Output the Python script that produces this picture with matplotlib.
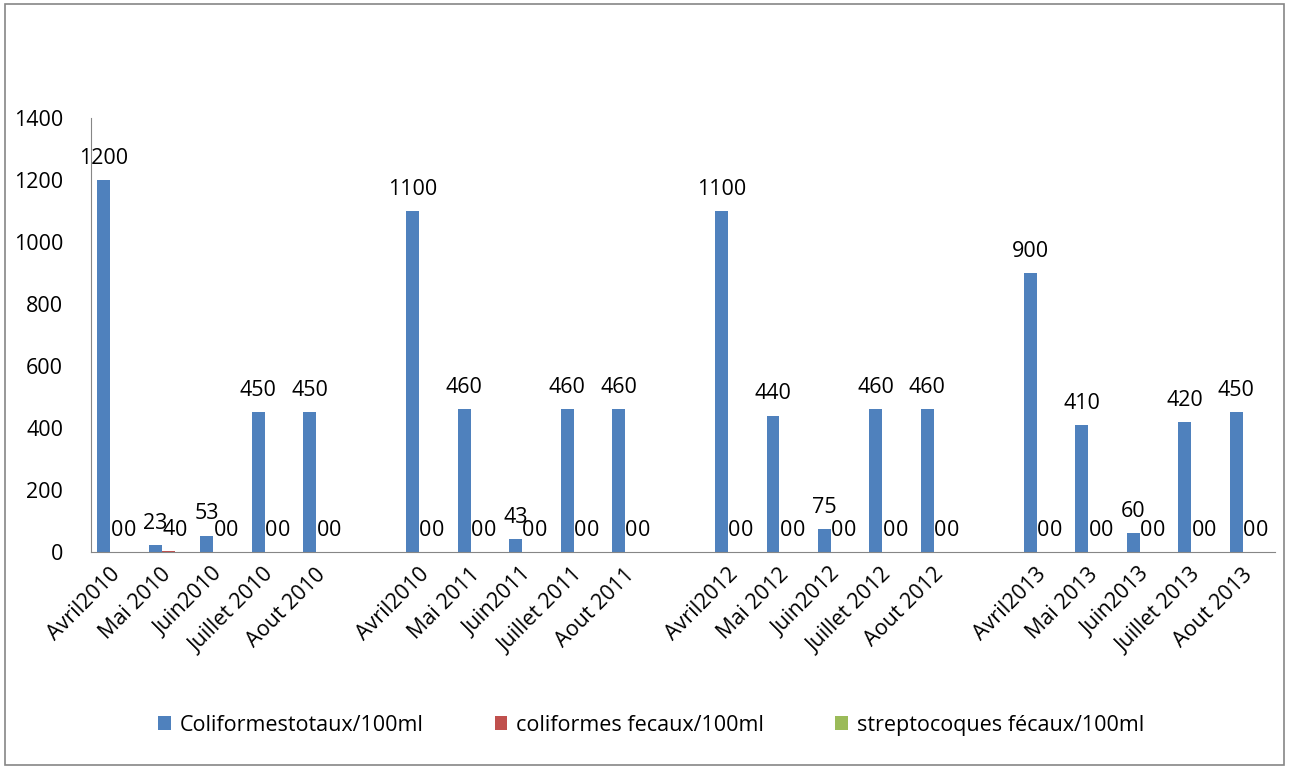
import matplotlib
matplotlib.use("Agg")
import matplotlib.pyplot as plt
from matplotlib.patches import Rectangle
import numpy as np

plt.rcParams['font.family'] = ['Open Sans', 'DejaVu Sans']

# month labels, empty strings are the gaps between years
mois = ["Avril2010", "Mai 2010", "Juin2010", "Juillet 2010", "Aout 2010", "",
        "Avril2010", "Mai 2011", "Juin2011", "Juillet 2011", "Aout 2011", "",
        "Avril2012", "Mai 2012", "Juin2012", "Juillet 2012", "Aout 2012", "",
        "Avril2013", "Mai 2013", "Juin2013", "Juillet 2013", "Aout 2013"]

nan = np.nan
coli_totaux = [1200, 23, 53, 450, 450, nan,
               1100, 460, 43, 460, 460, nan,
               1100, 440, 75, 460, 460, nan,
               900, 410, 60, 420, 450]
coli_fecaux = [0, 4, 0, 0, 0, nan,
               0, 0, 0, 0, 0, nan,
               0, 0, 0, 0, 0, nan,
               0, 0, 0, 0, 0]
strepto = [0, 0, 0, 0, 0, nan,
           0, 0, 0, 0, 0, nan,
           0, 0, 0, 0, 0, nan,
           0, 0, 0, 0, 0]

series = [
    ("Coliformestotaux/100ml", coli_totaux, "#4F81BD"),
    ("coliformes fecaux/100ml", coli_fecaux, "#C0504D"),
    ("streptocoques fécaux/100ml", strepto, "#9BBB59"),
]

fs = 15.5

fig = plt.figure(figsize=(12.89, 7.69), dpi=100)
ax = fig.add_axes([0.0706, 0.2822, 0.9184, 0.5644])

x = np.arange(len(mois))
w = 0.25
for i, (nom, vals, col) in enumerate(series):
    pos = x + (i - 1) * w
    vals = np.array(vals, dtype=float)
    ax.bar(pos, vals, width=w, color=col, label=nom)
    for p, v in zip(pos, vals):
        if np.isnan(v):
            continue
        ax.annotate(f"{int(v)}", (p, v), xytext=(0, 8), textcoords="offset points",
                    ha="center", va="bottom", fontsize=fs)

ax.set_xlim(-0.5, len(mois) - 0.5)
ax.set_ylim(0, 1400)
ax.set_yticks(range(0, 1401, 200))
ax.set_xticks(x)
ax.set_xticklabels(mois, rotation=45, ha="right", va="center",
                   rotation_mode="anchor", fontsize=fs)
ax.tick_params(axis="both", length=0, labelsize=fs)
ax.tick_params(axis="y", pad=20)
ax.tick_params(axis="x", pad=14)

for s in ["top", "right"]:
    ax.spines[s].set_visible(False)
for s in ["left", "bottom"]:
    ax.spines[s].set_color("#868686")

leg = fig.legend(loc="center", bbox_to_anchor=(0.505, 0.057), ncol=3, frameon=False,
                 fontsize=fs, handlelength=0.6, handleheight=0.6, handletextpad=0.4,
                 columnspacing=3.3)

# border around the whole chart area
fig.patches.append(Rectangle((0.004, 0.005), 0.992, 0.99, transform=fig.transFigure,
                             fill=False, edgecolor="#868686", lw=1.2))

fig.savefig("out.png", dpi=100)
